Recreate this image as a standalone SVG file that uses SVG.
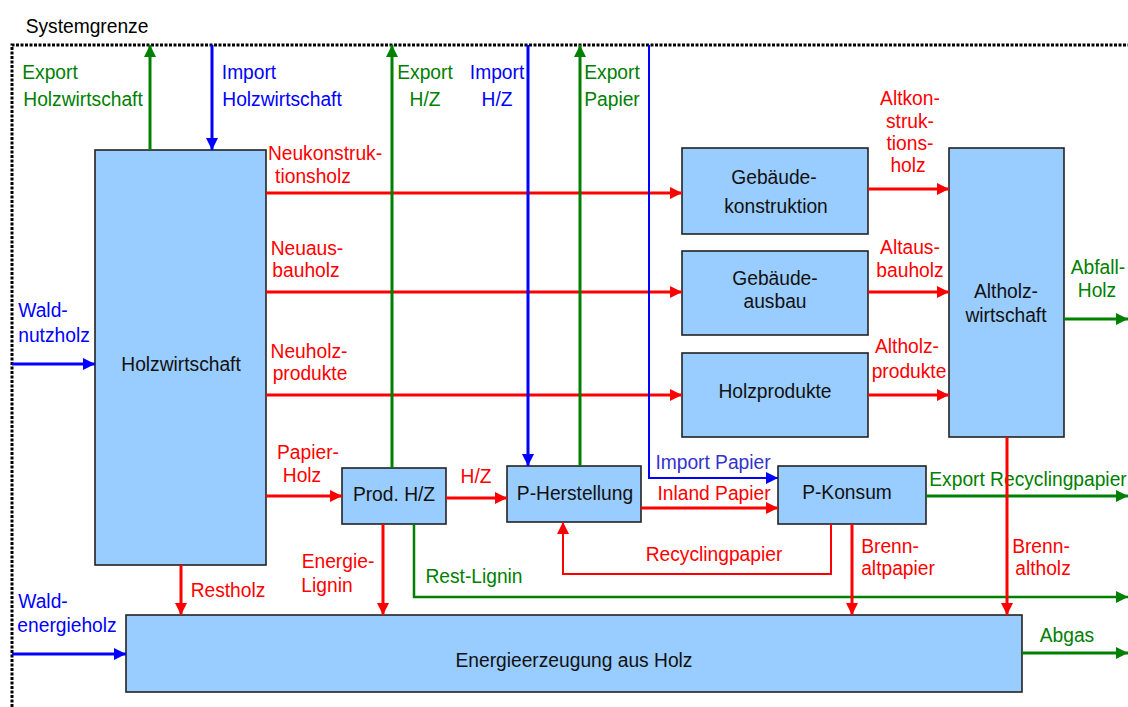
<svg xmlns="http://www.w3.org/2000/svg" width="1128" height="707" viewBox="0 0 1128 707">
<style>
text{font-family:"Liberation Sans",Arial,sans-serif;font-size:21px;text-anchor:middle;transform-box:fill-box;transform-origin:center;transform:scaleX(0.915)}
.box{fill:#99CCFF;stroke:#222;stroke-width:1.6}
.bt{fill:#111}
.r{fill:#FF0000}.g{fill:#008000}.b{fill:#0000FF}.bl{fill:#3333CC}
.cr{stroke:#FF0000;stroke-width:3;fill:none;marker-end:url(#ar)}
.cg{stroke:#008000;stroke-width:3;fill:none;marker-end:url(#ag)}
.cb{stroke:#0000FF;stroke-width:3;fill:none;marker-end:url(#ab)}
.thin{stroke-width:2}
.bound{stroke:#000;stroke-width:3;stroke-dasharray:3 1.5;fill:none}
</style>
<defs>
<marker id="ar" markerUnits="userSpaceOnUse" markerWidth="12" markerHeight="12" refX="12" refY="6" orient="auto"><path d="M0,0L12,6L0,12z" fill="#FF0000"/></marker>
<marker id="ag" markerUnits="userSpaceOnUse" markerWidth="12" markerHeight="12" refX="12" refY="6" orient="auto"><path d="M0,0L12,6L0,12z" fill="#008000"/></marker>
<marker id="ab" markerUnits="userSpaceOnUse" markerWidth="12" markerHeight="12" refX="12" refY="6" orient="auto"><path d="M0,0L12,6L0,12z" fill="#0000FF"/></marker>
</defs>
<rect width="1128" height="707" fill="#fff"/>
<g id="systemgrenze">
<path class="bound" d="M12,707V45H1128"/>
<text x="87" y="33" fill="#000">Systemgrenze</text>
</g>
<g id="node-holzwirtschaft"><rect class="box" x="95" y="150" width="171" height="415"/><text class="bt" x="181" y="371">Holzwirtschaft</text></g>
<g id="node-gebaeudekonstruktion"><rect class="box" x="682" y="148" width="186" height="86"/><text class="bt" x="774" y="184">Gebäude-</text><text class="bt" x="776" y="213">konstruktion</text></g>
<g id="node-gebaeudeausbau"><rect class="box" x="682" y="251" width="186" height="84"/><text class="bt" x="775" y="285">Gebäude-</text><text class="bt" x="775" y="308">ausbau</text></g>
<g id="node-holzprodukte"><rect class="box" x="682" y="353" width="186" height="84"/><text class="bt" x="775" y="398">Holzprodukte</text></g>
<g id="node-altholzwirtschaft"><rect class="box" x="949" y="148" width="115" height="289"/><text class="bt" x="1006" y="298">Altholz-</text><text class="bt" x="1006" y="322">wirtschaft</text></g>
<g id="node-prod-hz"><rect class="box" x="342" y="468" width="104" height="56"/><text class="bt" x="394" y="501">Prod. H/Z</text></g>
<g id="node-p-herstellung"><rect class="box" x="507" y="466" width="134" height="56"/><text class="bt" x="575" y="500">P-Herstellung</text></g>
<g id="node-p-konsum"><rect class="box" x="778" y="466" width="148" height="58"/><text class="bt" x="847" y="499">P-Konsum</text></g>
<g id="node-energieerzeugung"><rect class="box" x="126" y="615" width="896" height="77"/><text class="bt" x="574" y="667">Energieerzeugung aus Holz</text></g>
<g id="labels">
<text class="g" x="50" y="79">Export</text><text class="g" x="83" y="106">Holzwirtschaft</text>
<text class="b" x="249" y="79">Import</text><text class="b" x="282" y="106">Holzwirtschaft</text>
<text class="g" x="425" y="79">Export</text><text class="g" x="425" y="106">H/Z</text>
<text class="b" x="497" y="79">Import</text><text class="b" x="497" y="106">H/Z</text>
<text class="g" x="612" y="79">Export</text><text class="g" x="612" y="106">Papier</text>
<text class="r" x="325" y="160">Neukonstruk-</text><text class="r" x="313" y="183">tionsholz</text>
<text class="r" x="307" y="255">Neuaus-</text><text class="r" x="306" y="277">bauholz</text>
<text class="r" x="309" y="358">Neuholz-</text><text class="r" x="310" y="380">produkte</text>
<text class="b" x="43" y="317">Wald-</text><text class="b" x="54" y="342">nutzholz</text>
<text class="r" x="910" y="105">Altkon-</text><text class="r" x="910" y="128">struk-</text><text class="r" x="910" y="150">tions-</text><text class="r" x="908" y="172">holz</text>
<text class="r" x="910" y="254">Altaus-</text><text class="r" x="910" y="277">bauholz</text>
<text class="r" x="907" y="353">Altholz-</text><text class="r" x="909" y="378">produkte</text>
<text class="g" x="1098" y="274">Abfall-</text><text class="g" x="1097" y="297">Holz</text>
<text class="r" x="308" y="459">Papier-</text><text class="r" x="302" y="482">Holz</text>
<text class="r" x="476" y="483">H/Z</text>
<text class="bl" x="713" y="469">Import Papier</text>
<text class="r" x="714" y="500">Inland Papier</text>
<text class="g" x="1028" y="486">Export Recyclingpapier</text>
<text class="r" x="714" y="561">Recyclingpapier</text>
<text class="r" x="338" y="568">Energie-</text><text class="r" x="327" y="592">Lignin</text>
<text class="g" x="474" y="583">Rest-Lignin</text>
<text class="r" x="890" y="553">Brenn-</text><text class="r" x="898" y="575">altpapier</text>
<text class="r" x="1041" y="553">Brenn-</text><text class="r" x="1043" y="575">altholz</text>
<text class="r" x="228" y="597">Restholz</text>
<text class="b" x="43" y="608">Wald-</text><text class="b" x="67" y="632">energieholz</text>
<text class="g" x="1067" y="642">Abgas</text>
</g>
<g id="connectors">
<path class="cr" d="M266,193H682"/>
<path class="cr" d="M266,292H682"/>
<path class="cr" d="M266,395H682"/>
<path class="cr" d="M868,189H949"/>
<path class="cr" d="M868,292H949"/>
<path class="cr" d="M868,395H949"/>
<path class="cr" d="M266,496H342"/>
<path class="cr" d="M446,498H507"/>
<path class="cr" d="M641,508H778"/>
<path class="cr thin" d="M831,524V574H563V522"/>
<path class="cg" d="M150,150V45"/>
<path class="cb" d="M212,45V150"/>
<path class="cb" d="M12,364H95"/>
<path class="cg" d="M392,468V45"/>
<path class="cb" d="M528,45V466"/>
<path class="cg" d="M580,466V45"/>
<path class="cb thin" d="M649,45V478H778"/>
<path class="cg" d="M1064,319H1128"/>
<path class="cg" d="M926,496H1128"/>
<path class="cg" style="stroke-width:2.5" d="M414,524V597H1128"/>
<path class="cb" d="M12,654H126"/>
<path class="cg" d="M1022,653H1128"/>
<path class="cr" d="M181,565V615"/>
<path class="cr" d="M383,524V615"/>
<path class="cr" d="M852,524V615"/>
<path class="cr" d="M1007,437V615"/>
</g>
</svg>
